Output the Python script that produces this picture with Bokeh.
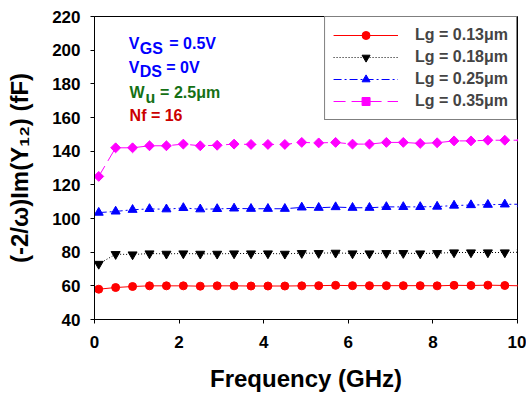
import math
from bokeh.plotting import figure
from bokeh.models import Range1d, Label, FixedTicker
from bokeh.embed import file_html
from bokeh.resources import INLINE

# ---------------- data ----------------
freq = [0.1, 0.5, 0.9, 1.3, 1.7, 2.1, 2.5, 2.9, 3.3, 3.7, 4.1, 4.5, 4.9,
        5.3, 5.7, 6.1, 6.5, 6.9, 7.3, 7.7, 8.1, 8.5, 8.9, 9.3, 9.7, 10.1]

lg013 = [58.0, 59.0, 59.6, 60.0, 60.0, 60.0, 59.8, 60.0, 60.0, 59.9, 59.9, 59.9, 60.0,
         60.1, 60.3, 60.1, 60.1, 60.1, 60.1, 60.1, 60.0, 60.3, 60.2, 60.4, 60.2, 60.0]
lg018 = [73.0, 78.8, 78.6, 79.2, 79.0, 79.2, 79.0, 79.0, 79.2, 79.2, 79.2, 79.0, 79.4,
         79.4, 79.6, 79.2, 79.2, 79.4, 79.4, 79.2, 79.4, 79.8, 79.8, 79.8, 79.8, 80.0]
lg025 = [103.5, 104.2, 105.2, 105.7, 105.5, 106.3, 105.5, 105.7, 106.0, 105.8, 105.8, 105.8, 106.6,
         106.4, 106.8, 106.4, 106.4, 106.9, 106.9, 106.9, 107.1, 107.7, 108.0, 108.2, 108.4, 108.5]
lg035 = [125.0, 142.0, 142.0, 143.2, 143.2, 144.2, 143.2, 143.5, 144.2, 144.0, 144.0, 144.0, 145.2,
         144.9, 145.2, 144.2, 144.2, 145.2, 145.2, 144.6, 145.0, 146.1, 146.1, 146.5, 146.5, 146.5]

series_labels = ["Lg = 0.13\u03bcm", "Lg = 0.18\u03bcm", "Lg = 0.25\u03bcm", "Lg = 0.35\u03bcm"]
x_ticks = [0, 2, 4, 6, 8, 10]
y_ticks = [40, 60, 80, 100, 120, 140, 160, 180, 200, 220]
x_title = "Frequency (GHz)"
y_title = "(-2/\u03c9)Im(Y\u2081\u2082) (fF)"

FONT = "Liberation Sans"

p = figure(width=526, height=396, output_backend="svg", toolbar_location=None,
           x_range=Range1d(0, 10), y_range=Range1d(40, 220),
           min_border_left=94, min_border_right=9, min_border_top=16, min_border_bottom=77)
p.background_fill_color = "white"
p.border_fill_color = "white"
p.xgrid.visible = False
p.ygrid.visible = False
p.outline_line_color = "black"
p.outline_line_width = 1

for ax in (p.xaxis[0], p.yaxis[0]):
    ax.major_tick_in = 0
    ax.major_tick_out = 4
    ax.minor_tick_in = 0
    ax.minor_tick_out = 0
    ax.axis_line_color = "black"
    ax.major_tick_line_color = "black"
    ax.major_label_text_font = FONT
    ax.major_label_text_font_size = "17px"
    ax.major_label_text_font_style = "bold"
    ax.major_label_text_color = "black"
    ax.axis_label_text_font = FONT
    ax.axis_label_text_font_size = "24px"
    ax.axis_label_text_font_style = "bold"
    ax.axis_label_text_color = "black"
p.xaxis.ticker = FixedTicker(ticks=x_ticks)
p.yaxis.ticker = FixedTicker(ticks=y_ticks)
p.xaxis.major_label_standoff = 12
p.yaxis.major_label_standoff = 10
p.xaxis.axis_label = x_title
p.yaxis.axis_label = y_title
p.xaxis.axis_label_standoff = 14
p.yaxis.axis_label_standoff = 16

styles = [
    (lg013, "#ff0000", "solid", "circle", 8, 0),
    (lg018, "#000000", "1 2", "inverted_triangle", 9, 0),
    (lg025, "#0000ff", "8 3 2 3", "triangle", 9, 0),
    (lg035, "#ff00ff", "12 6", "square", 7, math.pi / 4),
]
for (ys, col, dash, mk, sz, ang), lab in zip(styles, series_labels):
    p.line(freq, ys, line_color=col, line_width=1, line_dash=dash, legend_label=lab)
    p.scatter(freq, ys, marker=mk, size=sz, angle=ang, fill_color=col, line_color=col,
              legend_label=lab)

lg = p.legend[0]
lg.location = "top_right"
lg.margin = 0
lg.padding = 8
lg.spacing = 2
lg.glyph_width = 65
lg.glyph_height = 20
lg.label_height = 20
lg.label_standoff = 17
lg.label_text_font = FONT
lg.label_text_font_size = "16px"
lg.label_text_font_style = "bold"
lg.border_line_color = "black"
lg.border_line_width = 1
lg.background_fill_alpha = 1

def lab(text, x, y, color, size="16px", dx=0, dy=0):
    p.add_layout(Label(x=x, y=y, text=text, x_offset=dx, y_offset=dy,
                       text_font=FONT, text_font_size=size, text_font_style="bold",
                       text_color=color, text_align="left", text_baseline="alphabetic"))

BLUE = "#0000ff"
GREEN = "#157015"
RED = "#cc0000"
lab("V", 0.81, 203.8, BLUE)
lab("GS", 0.81, 203.8, BLUE, dx=11, dy=-5)
lab("= 0.5V", 0.81, 203.8, BLUE, dx=40.5)
lab("V", 0.81, 189.9, BLUE)
lab("DS", 0.81, 189.9, BLUE, dx=11, dy=-4.5)
lab("= 0V", 0.81, 189.9, BLUE, dx=37.5)
lab("W", 0.83, 174.7, GREEN)
lab("u", 0.83, 174.7, GREEN, dx=16, dy=-4.5)
lab("= 2.5\u03bcm", 0.83, 174.7, GREEN, dx=30.5)
lab("Nf = 16", 0.83, 161.2, RED)

open("out.html", "w").write(file_html(p, INLINE))
